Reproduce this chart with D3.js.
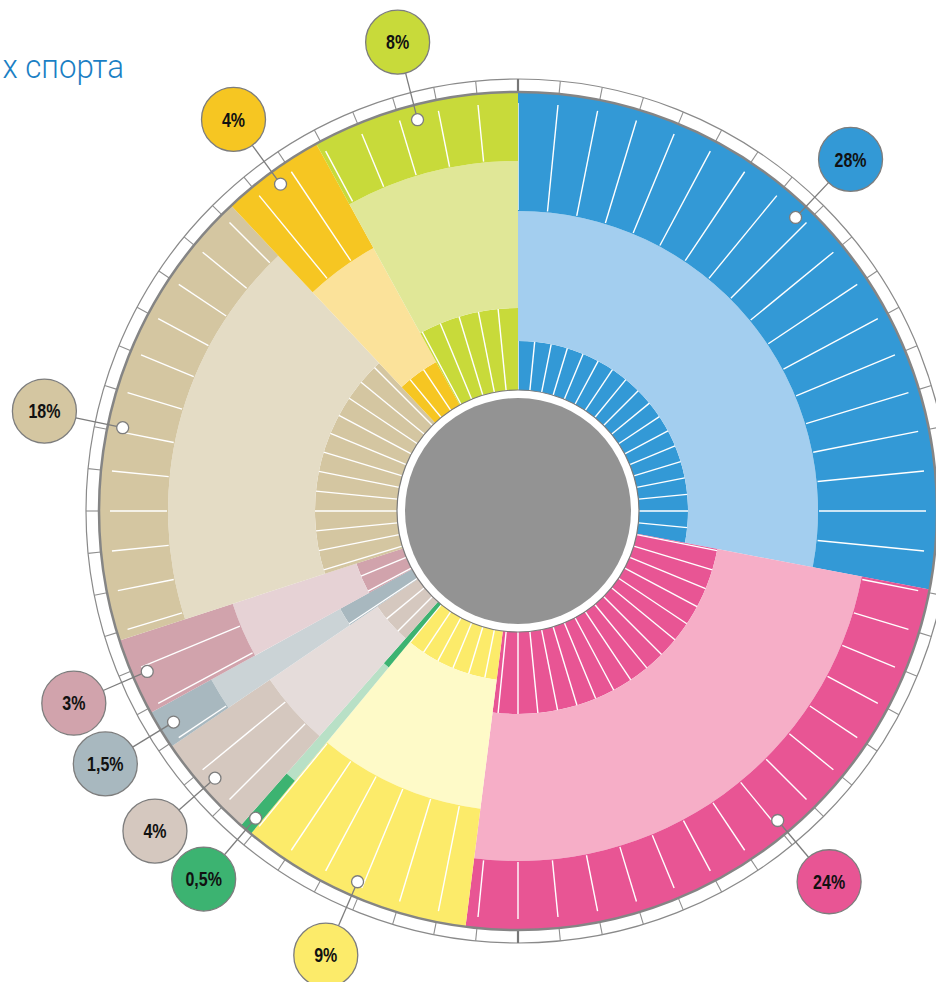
<!DOCTYPE html>
<html>
<head>
<meta charset="utf-8">
<script src="https://cdn.jsdelivr.net/npm/d3@7"></script>
<style>
  body { margin: 0; background: #fff; }
  svg { display: block; }
  .pct { font-family: "Liberation Sans", Arial, sans-serif; font-weight: bold; font-size: 20px; fill: #111; }
</style>
</head>
<body>
<svg width="936" height="982"></svg>
<script>
// shares, clockwise from 12 o'clock
var labels = ["28%", "24%", "9%", "0,5%", "4%", "1,5%", "3%", "18%", "4%", "8%"];
var values = [28, 24, 9, 0.5, 4, 1.5, 3, 18, 4, 8];
var darkColors  = ["#3399d6", "#e85594", "#fceb6a", "#3cb371", "#d5c8bf", "#a8b8bf", "#d1a3ac", "#d4c6a1", "#f6c622", "#c8da3a"];
var lightColors = ["#a3ceef", "#f6aec7", "#fefac8", "#b8e0c6", "#e5dcda", "#cbd3d6", "#e6d2d5", "#e4dcc5", "#fbe29a", "#e0e797"];
var titleText = "х спорта";

var svg = d3.select("svg"),
    width = +svg.attr("width"),
    height = +svg.attr("height");

var cx = 518, cy = 511;
var rCore = 113, rHole = 121, rOuter = 419, rRing = 432;
// inner band ends short (170/300) or long (203/350), alternating
var bandShort = [170, 300], bandLong = [203, 350];
var nTicks = 64;
var step = 2 * Math.PI / nTicks;
// a few callouts are pulled away from the slice middle
var labelShift = {0: 43.4, 1: 140, 7: 281.9};

svg.append("text")
  .attr("transform", "translate(124,78) scale(0.92,1)")
  .attr("text-anchor", "end")
  .style("font-family", "Roboto, sans-serif")
  .style("font-weight", 300)
  .style("font-size", "34px")
  .style("fill", "#1b7fc4")
  .text(titleText);

var g = svg.append("g").attr("transform", "translate(" + cx + "," + cy + ")");

var pie = d3.pie().sort(null).value(d => d)(values);

var arc = d3.arc();

// tick ring
g.append("circle").attr("r", rRing).attr("fill", "#fff").attr("stroke", "#8a8a8a").attr("stroke-width", 1.2);
d3.range(nTicks).forEach(function(k) {
  var a = k * step, major = (k % 32 === 0);
  g.append("line")
    .attr("x1", Math.sin(a) * rOuter).attr("y1", -Math.cos(a) * rOuter)
    .attr("x2", Math.sin(a) * rRing).attr("y2", -Math.cos(a) * rRing)
    .attr("stroke", major ? "#777" : "#8f8f8f")
    .attr("stroke-width", major ? 2.2 : 1.1);
});

var slices = g.append("g").selectAll("g")
  .data(pie)
  .enter().append("g");

slices.each(function(d, i) {
  var band = i % 2 === 0 ? bandShort : bandLong;
  var sel = d3.select(this);
  var a0 = d.startAngle, a1 = d.endAngle;
  sel.append("path")
    .attr("d", arc({innerRadius: rHole - 4, outerRadius: band[0], startAngle: a0, endAngle: a1}))
    .attr("fill", darkColors[i]);
  sel.append("path")
    .attr("d", arc({innerRadius: band[0], outerRadius: band[1], startAngle: a0, endAngle: a1}))
    .attr("fill", lightColors[i]);
  sel.append("path")
    .attr("d", arc({innerRadius: band[1], outerRadius: rOuter, startAngle: a0, endAngle: a1}))
    .attr("fill", darkColors[i]);

  // white dividers on the global 64-step grid
  var k0 = Math.ceil(a0 / step - 1e-6), k1 = Math.ceil(a1 / step - 1e-6);
  d3.range(k0, k1).forEach(function(k) {
    var a = k * step, s = Math.sin(a), c = -Math.cos(a);
    sel.append("line")
      .attr("x1", s * rHole).attr("y1", c * rHole)
      .attr("x2", s * band[0]).attr("y2", c * band[0])
      .attr("stroke", "#fff").attr("stroke-width", 1.4);
    sel.append("line")
      .attr("x1", s * (band[1] + 1)).attr("y1", c * (band[1] + 1))
      .attr("x2", s * 408).attr("y2", c * 408)
      .attr("stroke", "#fff").attr("stroke-width", 1.4);
  });
});

// outline of the coloured disc
g.append("circle").attr("r", rOuter).attr("fill", "none").attr("stroke", "#858585").attr("stroke-width", 2.5);

// hub
g.append("circle").attr("r", rHole).attr("fill", "#fff").attr("stroke", "#7a7a7a").attr("stroke-width", 1.2);
g.append("circle").attr("r", rCore).attr("fill", "#939393");

// callouts
var rDot = 404, rBubble = 484, bubbleR = 32;
pie.forEach(function(d, i) {
  var deg = labelShift[i] !== undefined ? labelShift[i] : (d.startAngle + d.endAngle) / 2 * 180 / Math.PI;
  var a = deg * Math.PI / 180, s = Math.sin(a), c = -Math.cos(a);
  var lab = g.append("g");
  lab.append("line")
    .attr("x1", s * rDot).attr("y1", c * rDot)
    .attr("x2", s * (rBubble - bubbleR)).attr("y2", c * (rBubble - bubbleR))
    .attr("stroke", "#7d7d7d").attr("stroke-width", 1.3);
  lab.append("circle")
    .attr("cx", s * rDot).attr("cy", c * rDot).attr("r", 6)
    .attr("fill", "#fff").attr("stroke", "#7d7d7d").attr("stroke-width", 1.3);
  lab.append("circle")
    .attr("cx", s * rBubble).attr("cy", c * rBubble).attr("r", bubbleR)
    .attr("fill", darkColors[i]).attr("stroke", "#7d7d7d").attr("stroke-width", 1.3);
  lab.append("text")
    .attr("class", "pct")
    .attr("transform", "translate(" + (s * rBubble) + "," + (c * rBubble) + ") scale(0.8,1)")
    .attr("dy", "0.36em")
    .attr("text-anchor", "middle")
    .text(labels[i]);
});
</script>
</body>
</html>
